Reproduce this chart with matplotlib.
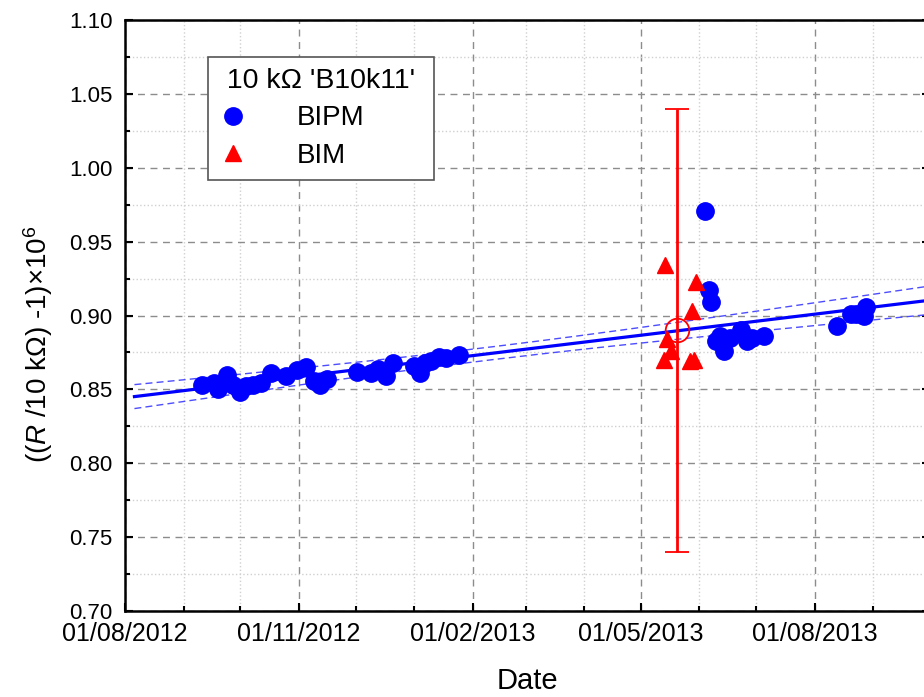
import datetime as dt
import numpy as np
import matplotlib
matplotlib.use('Agg')
import matplotlib.pyplot as plt
import matplotlib.dates as mdates
from matplotlib.ticker import MultipleLocator

plt.rcParams['font.family'] = ['Liberation Sans', 'DejaVu Sans']
plt.rcParams['mathtext.fontset'] = 'custom'
plt.rcParams['mathtext.rm'] = 'Liberation Sans'
plt.rcParams['mathtext.it'] = 'Liberation Sans:italic'
plt.rcParams['mathtext.bf'] = 'Liberation Sans:bold'

# dados
bipm_datas = ['2012-09-11', '2012-09-17', '2012-09-19', '2012-09-24', '2012-09-27',
              '2012-10-01', '2012-10-04', '2012-10-08', '2012-10-12', '2012-10-17',
              '2012-10-25', '2012-10-31', '2012-11-05', '2012-11-09', '2012-11-12',
              '2012-11-16', '2012-12-02', '2012-12-09', '2012-12-13', '2012-12-17',
              '2012-12-21', '2013-01-01', '2013-01-04', '2013-01-07', '2013-01-10',
              '2013-01-14', '2013-01-18', '2013-01-25', '2013-06-04', '2013-06-06',
              '2013-06-07', '2013-06-10', '2013-06-12', '2013-06-14', '2013-06-17',
              '2013-06-23', '2013-06-26', '2013-06-29', '2013-07-05', '2013-08-13',
              '2013-08-20', '2013-08-23', '2013-08-27', '2013-08-28']
bipm_valores = [0.853, 0.854, 0.850, 0.860, 0.853, 0.848, 0.852, 0.853, 0.854, 0.861,
                0.859, 0.863, 0.865, 0.856, 0.853, 0.857, 0.862, 0.861, 0.864, 0.859,
                0.868, 0.866, 0.861, 0.868, 0.869, 0.872, 0.871, 0.873, 0.971, 0.917,
                0.909, 0.883, 0.886, 0.876, 0.885, 0.890, 0.883, 0.885, 0.886, 0.893,
                0.901, 0.901, 0.900, 0.906]

bim_datas = ['2013-05-14', '2013-05-30', '2013-05-28', '2013-05-15',
             '2013-05-17', '2013-05-13', '2013-05-27', '2013-05-29']
bim_valores = [0.934, 0.923, 0.903, 0.884, 0.876, 0.870, 0.869, 0.870]

bim_media_data = '2013-05-20'
bim_media = 0.890
bim_incerteza = 0.150

inicio_ajuste = '2012-08-06'
xlim_datas = ['2012-08-01', '2013-10-01']


def para_num(lista):
    return mdates.date2num([dt.datetime.strptime(d, '%Y-%m-%d') for d in lista])


xb = para_num(bipm_datas)
yb = np.array(bipm_valores)
xm = para_num(bim_datas)
xlim = para_num(xlim_datas)

# ajuste linear + banda de confianca 95%
coef = np.polyfit(xb, yb, 1)
n = len(xb)
resid = yb - np.polyval(coef, xb)
s = np.sqrt(np.sum(resid ** 2) / (n - 2))
sxx = np.sum((xb - xb.mean()) ** 2)
xf = np.linspace(para_num([inicio_ajuste])[0], xlim[1], 200)
yf = np.polyval(coef, xf)
banda = 2.02 * s * np.sqrt(1.0 / n + (xf - xb.mean()) ** 2 / sxx)

fig = plt.figure(figsize=(9.24, 6.97), dpi=100)
ax = fig.add_axes([125 / 924, 86 / 697, 805 / 924, 591 / 697])

ax.plot(xf, yf, color='blue', linewidth=2.3, zorder=3)
ax.plot(xf, yf + banda, color='#4d4dff', linewidth=1, linestyle=(0, (5, 3)), zorder=3)
ax.plot(xf, yf - banda, color='#4d4dff', linewidth=1, linestyle=(0, (5, 3)), zorder=3)

ax.plot(xb, yb, 'o', color='blue', markersize=12.5, linestyle='none', zorder=4, label='BIPM')
ax.plot(xm, bim_valores, '^', color='red', markersize=12, linestyle='none', zorder=4, label='BIM')

ax.errorbar(para_num([bim_media_data]), [bim_media], yerr=[bim_incerteza], fmt='o',
            mfc='none', mec='red', mew=1.3, ms=17, ecolor='red', elinewidth=2,
            capsize=8.5, capthick=2, zorder=5)

ax.set_xlim(xlim)
ax.set_ylim(0.70, 1.10)

ax.xaxis.set_major_locator(mdates.MonthLocator(bymonth=[2, 5, 8, 11]))
ax.xaxis.set_minor_locator(mdates.MonthLocator())
ax.xaxis.set_major_formatter(mdates.DateFormatter('%d/%m/%Y'))
ax.yaxis.set_major_locator(MultipleLocator(0.05))
ax.yaxis.set_minor_locator(MultipleLocator(0.025))
ax.yaxis.set_major_formatter(matplotlib.ticker.FormatStrFormatter('%.2f'))

ax.grid(True, which='major', color='#8c8c8c', linestyle=(0, (5, 4)), linewidth=1)
ax.grid(True, which='minor', color='#d0d0d0', linestyle=':', linewidth=1)
ax.set_axisbelow(True)

ax.tick_params(which='both', direction='in', left=True, right=True, bottom=True, top=False,
               labelsize=16, width=1.5)
ax.tick_params(axis='x', labelsize=18, pad=8)
ax.tick_params(which='major', length=6)
ax.tick_params(which='minor', length=3.5)
ax.tick_params(axis='y', pad=9)
for sp in ax.spines.values():
    sp.set_linewidth(1.8)

ax.set_xlabel('Date', fontsize=21, labelpad=15)
ax.set_ylabel(r'(($\mathit{R}$ /10 k$\Omega$) -1)$\times$10$^6$', fontsize=20)
ax.yaxis.set_label_coords(-0.087, 0.452)

leg = ax.legend(loc='upper left', bbox_to_anchor=(0.103, 0.937),
                title=" 10 k\u03a9 'B10k11' ", alignment='left',
                fontsize=20, title_fontsize=20.5, fancybox=False, framealpha=1,
                edgecolor='#555555', handletextpad=1.8, borderpad=0.4, labelspacing=0.4,
                handlelength=1.0, borderaxespad=0)
leg.get_frame().set_linewidth(1.2)

fig.savefig('out.png', dpi=100)
